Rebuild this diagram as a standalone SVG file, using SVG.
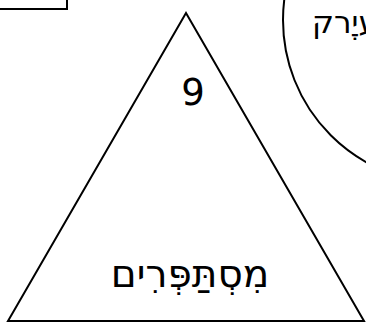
<svg xmlns="http://www.w3.org/2000/svg" width="366" height="326" viewBox="0 0 366 326">
<style>
.shape{fill:#fff;stroke:#000;stroke-width:2}
.t{font-family:"DejaVu Sans",sans-serif;fill:#000}
</style>
<rect width="366" height="326" fill="#fff"/>
<g id="rect-node"><rect class="shape" x="-40" y="-40" width="107" height="49" stroke="#222"/></g>
<g id="circle-node"><circle class="shape" cx="446" cy="20" r="163"/><text class="t" x="312" y="33" font-size="31" direction="rtl" text-anchor="end">עיְֶרק</text></g>
<g id="triangle-node"><polygon class="shape" points="186,13 364,321 8,321"/><text class="t" x="193" y="105" font-size="37" text-anchor="middle">9</text><text class="t" x="190" y="287" font-size="39" text-anchor="middle" direction="rtl">מִסְתַּפְּרִים</text></g>
<g id="connectors"></g>
</svg>
